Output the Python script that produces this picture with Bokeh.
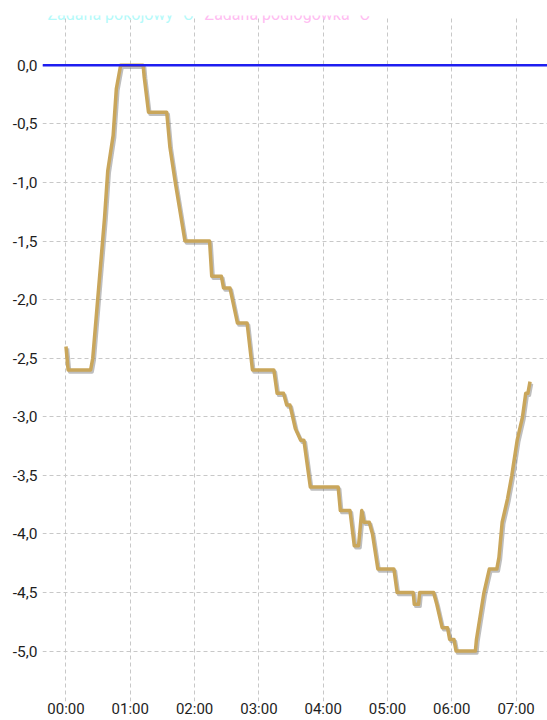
from bokeh.plotting import figure
from bokeh.models import Span, Label, FixedTicker, CustomJSTickFormatter, Range1d
from bokeh.embed import file_html
from bokeh.resources import INLINE

# ---- data ----
times = ["00:00", "00:02", "00:23", "00:25", "00:36", "00:39", "00:44", "00:47",
         "00:51", "01:12", "01:13", "01:17", "01:34", "01:37", "01:42", "01:51",
         "02:14", "02:16", "02:25", "02:27", "02:33", "02:40", "02:49", "02:54",
         "03:14", "03:17", "03:23", "03:26", "03:29", "03:34", "03:39", "03:42",
         "03:48", "04:14", "04:16", "04:25", "04:29", "04:33", "04:36", "04:38",
         "04:43", "04:46", "04:51", "05:06", "05:09", "05:24", "05:25", "05:29",
         "05:30", "05:43", "05:46", "05:51", "05:56", "05:58", "06:02", "06:04",
         "06:22", "06:23", "06:30", "06:35", "06:42", "06:44", "06:47", "06:52",
         "06:56", "07:01", "07:06", "07:09", "07:11", "07:13"]
values = [-2.4, -2.6, -2.6, -2.5, -1.3, -0.9, -0.6, -0.2,
          0.0, 0.0, -0.1, -0.4, -0.4, -0.7, -1.0, -1.5,
          -1.5, -1.8, -1.8, -1.9, -1.9, -2.2, -2.2, -2.6,
          -2.6, -2.8, -2.8, -2.9, -2.9, -3.1, -3.2, -3.2,
          -3.6, -3.6, -3.8, -3.8, -4.1, -4.1, -3.8, -3.9,
          -3.9, -4.0, -4.3, -4.3, -4.5, -4.5, -4.6, -4.6,
          -4.5, -4.5, -4.6, -4.8, -4.8, -4.9, -4.9, -5.0,
          -5.0, -4.9, -4.5, -4.3, -4.3, -4.2, -3.9, -3.7,
          -3.5, -3.2, -3.0, -2.8, -2.8, -2.7]
setpoint = 0.0
x_tick_labels = ["00:00", "01:00", "02:00", "03:00", "04:00", "05:00", "06:00", "07:00"]
y_ticks = [0.0, -0.5, -1.0, -1.5, -2.0, -2.5, -3.0, -3.5, -4.0, -4.5, -5.0]
legend_names = ["Zadana pokojowy °C", "Zadana podłogówka °C"]


def to_min(s):
    h, m = s.split(":")
    return int(h) * 60 + int(m)


xs = [to_min(t) for t in times]
x_ticks = [to_min(t) for t in x_tick_labels]

x0, x1 = -21.9, 449.3
y0, y1 = -5.43, 0.425

p = figure(width=547, height=720, output_backend="svg", toolbar_location=None,
           x_range=Range1d(x0, x1), y_range=Range1d(y0, y1),
           min_border_left=42, min_border_right=0, min_border_top=15,
           min_border_bottom=16, outline_line_color=None,
           background_fill_color="white", border_fill_color="white")

# axes
for ax in (p.xaxis[0], p.yaxis[0]):
    ax.axis_line_color = None
    ax.major_tick_line_color = None
    ax.minor_tick_line_color = None
    ax.major_tick_out = 0
    ax.major_tick_in = 0
    ax.minor_tick_out = 0
    ax.minor_tick_in = 0
    ax.major_label_text_font = "Roboto"
    ax.major_label_text_color = "#1e1e1e"

p.xaxis.ticker = FixedTicker(ticks=x_ticks)
p.xaxis.major_label_overrides = {t: lab for t, lab in zip(x_ticks, x_tick_labels)}
p.xaxis.major_label_text_font_size = "15px"
p.xaxis.major_label_standoff = -2

p.yaxis.ticker = FixedTicker(ticks=y_ticks)
p.yaxis.formatter = CustomJSTickFormatter(code="return tick.toFixed(1).replace('.', ',').replace('-0,0','0,0');")
p.yaxis.major_label_text_font_size = "15.5px"
p.yaxis.major_label_standoff = 5

# grid
for g in (p.xgrid[0], p.ygrid[0]):
    g.grid_line_color = "#c8c8c8"
    g.grid_line_dash = "4 3"
    g.grid_line_width = 1
p.xgrid.ticker = FixedTicker(ticks=x_ticks)
p.ygrid.ticker = FixedTicker(ticks=y_ticks)

# shadow + main line
dx = 1.5 * (x1 - x0) / 505.0
dy = -2.0 * (y1 - y0) / 689.0
p.line([v + dx for v in xs], [v + dy for v in values], line_color="#6f6f6f",
       line_alpha=0.45, line_width=3.5, line_join="round")
p.line(xs, values, line_color="#C9A65B", line_width=3.5, line_join="round")

# setpoint line (blue)
p.add_layout(Span(location=setpoint, dimension="width", line_color="#1e1ef0", line_width=2.5))

# faint legend texts at the top
p.add_layout(Label(x=-17.2, y=0.432, text=legend_names[0], text_font="Roboto",
                   text_font_size="16px", text_color="#b5fafa", text_baseline="alphabetic"))
p.add_layout(Label(x=129.3, y=0.432, text=legend_names[1], text_font="Roboto",
                   text_font_size="16px", text_color="#ffbdf2", text_baseline="alphabetic"))

open("out.html", "w").write(file_html(p, INLINE))
